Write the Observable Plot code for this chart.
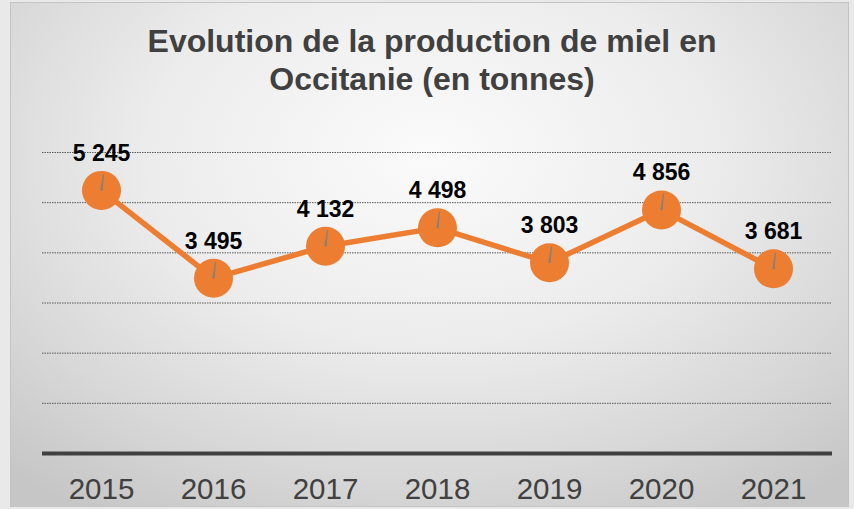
<!DOCTYPE html>
<html>
<head>
<meta charset="utf-8">
<script src="https://cdn.jsdelivr.net/npm/d3@7"></script>
<script src="https://cdn.jsdelivr.net/npm/@observablehq/plot@0.6"></script>
<style>
  html, body { margin: 0; padding: 0; background: #e9e9e9; }
  #wrap { position: relative; width: 854px; height: 509px; overflow: hidden; }
  #frame {
    position: absolute; left: 10px; top: 2px; width: 837px; height: 503px;
    border: 1px solid #c4c4c4;
    background: radial-gradient(ellipse 75% 85% at 50% 30%, #fbfbfb 0%, #ececec 45%, #d8d8d8 75%, #c6c6c6 100%);
  }
  #title {
    position: absolute; left: 0; top: 22px; width: 864px; text-align: center;
    font-family: "Liberation Sans", Arial, sans-serif; font-weight: bold;
    font-size: 32px; line-height: 38px; color: #404040;
  }
  #chart { position: absolute; left: 0; top: 0; }
</style>
</head>
<body>
<div id="wrap">
  <div id="frame"></div>
  <div id="chart"></div>
  <div id="title">Evolution de la production de miel en<br>Occitanie (en tonnes)</div>
</div>
<script>
const years = ["2015", "2016", "2017", "2018", "2019", "2020", "2021"];
const production = [5245, 3495, 4132, 4498, 3803, 4856, 3681];
const valueLabels = ["5 245", "3 495", "4 132", "4 498", "3 803", "4 856", "3 681"];
const gridValues = [1000, 2000, 3000, 4000, 5000, 6000];

const data = years.map((year, i) => ({year, value: production[i], label: valueLabels[i]}));
const orange = "#ED7D31";

const plot = Plot.plot({
  width: 854,
  height: 509,
  marginTop: 152,
  marginBottom: 56,
  marginLeft: 42,
  marginRight: 22,
  style: {background: "transparent", fontFamily: "'Liberation Sans', Arial, sans-serif", overflow: "visible"},
  x: {type: "point", domain: years, padding: 0.5, label: null, axis: null},
  y: {domain: [0, 6000], label: null, axis: null},
  marks: [
    Plot.ruleY(gridValues, {stroke: "#5a5a5a", strokeWidth: 1, strokeDasharray: "1.5,1"}),
    Plot.ruleY([0], {stroke: "#404040", strokeWidth: 4}),
    Plot.axisX({tickSize: 0, tickPadding: 25, fontSize: 29.5, color: "#404040", label: null}),
    Plot.line(data, {x: "year", y: "value", stroke: orange, strokeWidth: 5.5}),
    Plot.dot(data, {x: "year", y: "value", r: 19.5, fill: orange, stroke: null}),
    Plot.vector(data, {x: "year", y: "value", length: 16, rotate: 7, anchor: "start", shape: "spike", r: 0.6, stroke: "#808080", fill: "#808080", strokeWidth: 1}),
    Plot.text(data, {x: "year", y: "value", text: "label", dy: -37, fontSize: 23, fontWeight: "bold", fill: "#000"})
  ]
});
document.getElementById("chart").appendChild(plot);
</script>
</body>
</html>
